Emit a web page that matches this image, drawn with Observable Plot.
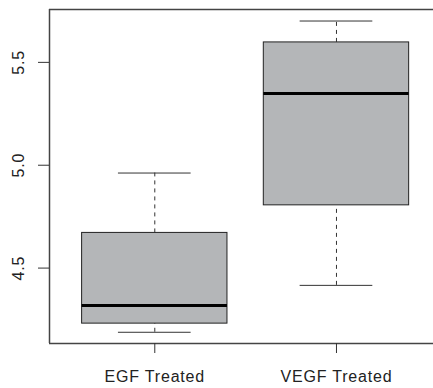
<!DOCTYPE html>
<html>
<head>
<meta charset="utf-8">
<script src="https://cdn.jsdelivr.net/npm/d3@7"></script>
<script src="https://cdn.jsdelivr.net/npm/@observablehq/plot@0.6"></script>
<style>
  html, body { margin: 0; padding: 0; background: #fff; overflow: hidden; }
  #chart svg { display: block; }
</style>
</head>
<body>
<div id="chart"></div>
<script>
const categories = ["EGF Treated", "VEGF Treated"];
const lowerWhisker = [4.188, 4.416];
const q1 = [4.230, 4.805];
const median = [4.318, 5.349];
const q3 = [4.671, 5.597];
const upperWhisker = [4.962, 5.701];
const yTicks = [4.5, 5.0, 5.5];

const rows = categories.map((c, i) => ({
  cat: c, pos: i + 1,
  lo: lowerWhisker[i], q1: q1[i], med: median[i], q3: q3[i], hi: upperWhisker[i]
}));

const xDomain = [0.4205, 2.534];
const yDomain = [4.1334, 5.757];
const ink = "#222";

const chart = Plot.plot({
  width: 433,
  height: 388,
  marginTop: 9,
  marginBottom: 45,
  marginLeft: 49,
  marginRight: 0,
  style: { fontFamily: "'Liberation Sans', Arial, sans-serif", background: "#fff", letterSpacing: "0.8px" },
  x: { domain: xDomain, axis: null },
  y: { domain: yDomain, axis: null },
  marks: [
    // whisker stems (dashed)
    Plot.ruleX(rows, { x: "pos", y1: "q3", y2: "hi", stroke: "#333", strokeWidth: 1, strokeDasharray: "4,4" }),
    Plot.ruleX(rows, { x: "pos", y1: "lo", y2: "q1", stroke: "#333", strokeWidth: 1, strokeDasharray: "4,4" }),
    // whisker caps
    Plot.ruleY(rows, { y: "hi", x1: d => d.pos - 0.2, x2: d => d.pos + 0.2, stroke: "#333", strokeWidth: 1 }),
    Plot.ruleY(rows, { y: "lo", x1: d => d.pos - 0.2, x2: d => d.pos + 0.2, stroke: "#333", strokeWidth: 1 }),
    // boxes
    Plot.rect(rows, { x1: d => d.pos - 0.4, x2: d => d.pos + 0.4, y1: "q1", y2: "q3", fill: "#b4b6b8", stroke: ink, strokeWidth: 1 }),
    // medians
    Plot.ruleY(rows, { y: "med", x1: d => d.pos - 0.4, x2: d => d.pos + 0.4, stroke: "#000", strokeWidth: 3 }),
    // frame (top, bottom, left; right side lies outside the picture)
    Plot.ruleY([yDomain[0], yDomain[1]], { stroke: "#444", strokeWidth: 1.5 }),
    Plot.ruleX([xDomain[0]], { stroke: "#444", strokeWidth: 1.5 }),
    // axes
    Plot.axisY({
      ticks: yTicks, tickFormat: d => d.toFixed(1), tickSize: 11, tickPadding: 15,
      tickRotate: -90, fontSize: 16, stroke: "#333", fill: ink, label: null
    }),
    Plot.axisX({
      ticks: [1, 2], tickFormat: i => categories[i - 1], tickSize: 10, tickPadding: 17,
      fontSize: 16, stroke: "#333", fill: ink, label: null
    })
  ]
});
document.getElementById("chart").appendChild(chart);
</script>
</body>
</html>
